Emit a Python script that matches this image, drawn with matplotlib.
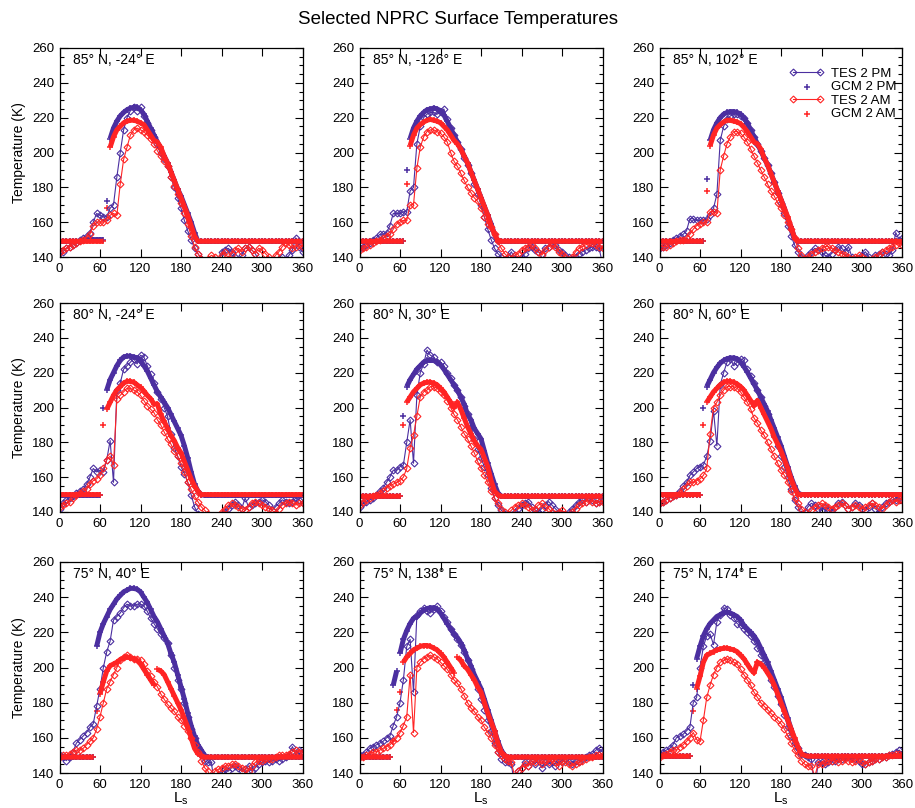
import numpy as np
import matplotlib.pyplot as plt
from matplotlib.ticker import MultipleLocator

plt.rcParams['font.family'] = ['Liberation Sans', 'DejaVu Sans']
plt.rcParams['mathtext.default'] = 'regular'

# Ls sampling (deg), same for every series
LS = np.arange(0, 361, 5)

titles = ['85° N, -24° E', '85° N, -126° E', '85° N, 102° E',
          '80° N, -24° E', '80° N, 30° E', '80° N, 60° E',
          '75° N, 40° E', '75° N, 138° E', '75° N, 174° E']

# ---- 85N -24E
tes_pm_1 = [139, 143, 145, 146, 147, 148, 150, 151, 152, 154, 160, 165,
            164, 163, 163, 168, 170, 186, 200, 213, 220, 224, 226, 224,
            226, 221, 217, 213, 209, 205, 200, 196, 192, 186, 180, 174,
            168, 161, 155, 150, 145, 142, 139, 137, 136, 137, 138, 136,
            143, 144, 145, 143, 140, 138, 141, 145, 146, 144, 142, 138,
            137, 136, 138, 136, 137, 139, 140, 138, 141, 144, 151, 146,
            143]
gcm_pm_1 = [149, 149, 149, 149, 149, 149, 149, 149, 150, 150, 150, 150,
            150, 150, 172, 208, 214, 218, 221, 223, 224.5, 225.5, 226, 226,
            224.5, 222, 218, 214, 210, 206, 202, 198, 194, 189, 184, 179,
            175, 170, 165, 160, 154, 149, 149, 149, 149, 149, 149, 149,
            149, 149, 149, 149, 149, 149, 149, 149, 149, 149, 149, 149,
            149, 149, 149, 149, 149, 149, 149, 149, 149, 149, 149, 149,
            149]
tes_am_1 = [143, 144, 145, 146, 147, 148, 149, 150, 151, 153, 158, 160,
            160, 160, 161, 164, 165, 164, 182, 196, 203, 210, 213, 214,
            213, 212, 210, 208, 205, 201, 198, 195, 192, 186, 181, 176,
            171, 165, 159, 152, 146, 142, 139, 137, 139, 141, 140, 138,
            141, 143, 139, 142, 144, 145, 143, 145, 146, 144, 142, 145,
            144, 142, 140, 138, 141, 143, 146, 148, 147, 145, 146, 147,
            146]
gcm_am_1 = [149, 149, 149, 149, 149, 149, 149, 149, 149, 149, 149, 149,
            149, 149, 168, 203, 209, 213, 215, 217, 218, 218.5, 218.5, 218,
            217, 216, 213, 210, 207, 206, 203, 198, 194, 189, 184, 179,
            174, 169, 164, 158, 152, 149, 149, 149, 149, 149, 149, 149,
            149, 149, 149, 149, 149, 149, 149, 149, 149, 149, 149, 149,
            149, 149, 149, 149, 149, 149, 149, 149, 149, 149, 149, 149,
            149]

# ---- 85N -126E
tes_pm_2 = [145, 146, 147, 148, 150, 151, 153, 153, 154, 158, 165, 165,
            165, 166, 166, 178, 180, 205, 215, 220, 222, 223, 223, 222,
            223, 225, 219, 214, 210, 206, 202, 197, 193, 188, 182, 176,
            170, 163, 156, 150, 145, 142, 140, 138, 140, 143, 139, 137,
            140, 142, 145, 146, 144, 143, 142, 145, 146, 148, 147, 144,
            143, 141, 140, 139, 140, 142, 143, 144, 145, 146, 146, 145,
            136]
gcm_pm_2 = [149, 149, 149, 149, 149, 149, 149, 149, 149, 149, 149, 149,
            149, 149, 190, 208, 214, 218, 221, 223, 224.5, 225, 225.5, 225,
            224, 221.5, 218, 214, 210, 206, 202, 198, 194, 189, 184, 179,
            174, 169, 164, 159, 153, 149, 149, 149, 149, 149, 149, 149,
            149, 149, 149, 149, 149, 149, 149, 149, 149, 149, 149, 149,
            149, 149, 149, 149, 149, 149, 149, 149, 149, 149, 149, 149,
            149]
tes_am_2 = [144, 145, 146, 147, 148, 149, 150, 151, 152, 153, 156, 159,
            160, 161, 161, 170, 170, 191, 203, 209, 212, 213, 213, 212,
            211, 209, 206, 200, 195, 192, 188, 184, 180, 177, 174, 172,
            168, 163, 159, 157, 153, 149, 145, 142, 140, 139, 141, 142,
            144, 145, 146, 147, 145, 143, 141, 144, 146, 147, 146, 143,
            142, 140, 138, 140, 143, 145, 146, 147, 148, 148, 147, 146,
            145]
gcm_am_2 = [149, 149, 149, 149, 149, 149, 149, 149, 149, 149, 149, 149,
            149, 149, 182, 204, 210, 214, 216, 217.5, 218.5, 219, 218.5, 218,
            217, 215, 213, 210, 207, 205, 202, 198, 194, 189, 184, 179,
            174, 169, 164, 158, 153, 149.5, 149, 149, 149, 149, 149, 149,
            149, 149, 149, 149, 149, 149, 149, 149, 149, 149, 149, 149,
            149, 149, 149, 149, 149, 149, 149, 149, 149, 149, 149, 149,
            149]

# ---- 85N 102E
tes_pm_3 = [145, 146, 147, 148, 150, 151, 152, 153, 155, 162, 162, 161,
            161, 161, 162, 164, 168, 176, 207, 215, 219, 221, 222, 222,
            221, 220, 217, 213, 209, 205, 201, 197, 193, 188, 183, 177,
            171, 165, 158, 152, 147, 143, 140, 138, 141, 143, 145, 144,
            143, 141, 140, 142, 144, 146, 145, 143, 146, 140, 137, 139,
            141, 143, 140, 139, 141, 142, 143, 142, 141, 144, 154, 150,
            151]
gcm_pm_3 = [149, 149, 149, 149, 149, 149, 149, 149, 149, 149, 149, 149,
            149, 149, 185, 207, 213, 217, 220, 222, 223, 223.5, 223.5, 223,
            222, 220, 217, 213, 209, 205, 201, 197, 193, 188, 183, 178,
            173, 168, 162, 157, 151, 149, 149, 149, 149, 149, 149, 149,
            149, 149, 149, 149, 149, 149, 149, 149, 149, 149, 149, 149,
            149, 149, 149, 149, 149, 149, 149, 149, 149, 149, 149, 149,
            149]
tes_am_3 = [146, 146, 146, 147, 148, 149, 150, 150, 151, 153, 156, 158,
            159, 160, 160, 166, 166, 165, 190, 198, 205, 209, 212, 212,
            211, 209, 206, 202, 198, 194, 190, 186, 182, 178, 175, 171,
            168, 164, 160, 156, 151, 145, 141, 139, 140, 142, 143, 144,
            145, 146, 146, 145, 144, 143, 142, 141, 140, 139, 140, 141,
            140, 139, 138, 139, 140, 141, 143, 144, 145, 146, 147, 148,
            147]
gcm_am_3 = [149, 149, 149, 149, 149, 149, 149, 149, 149, 149, 149, 149,
            149, 149, 178, 204, 210, 214, 216, 217.5, 218.5, 218.5, 218, 217.5,
            216.5, 214.5, 212, 209, 206, 205, 202, 197, 193, 188, 183, 178,
            173, 168, 163, 157, 151, 149, 149, 149, 149, 149, 149, 149,
            149, 149, 149, 149, 149, 149, 149, 149, 149, 149, 149, 149,
            149, 149, 149, 149, 149, 149, 149, 149, 149, 149, 149, 149,
            149]

# ---- 80N -24E
tes_pm_4 = [142, 145, 147, 148, 149, 151, 152, 153, 156, 160, 165, 163,
            164, 163, 170, 181, 157, 210, 214, 222, 224, 226, 228, 225,
            230, 229, 224, 219, 214, 209, 205, 200, 195, 185, 177, 172,
            166, 162, 157, 150, 143, 139, 137, 136, 136, 136, 136, 136,
            138, 140, 142, 144, 146, 144, 142, 148, 143, 144, 145, 146,
            147, 146, 144, 141, 143, 145, 147, 146, 145, 146, 148, 147,
            145]
gcm_pm_4 = [149.5, 149.5, 149.5, 149.5, 149.5, 149.5, 149.5, 149.5, 149.5, 149.5, 149.5, 149.5,
            149.5, 200, 210, 216, 220, 224, 227, 229, 229.5, 229.5, 229, 228.5,
            227, 224, 221, 217, 213, 209, 206, 203, 200, 196, 192, 188,
            184, 178, 171, 163, 156, 152, 150, 149.5, 149.5, 149.5, 149.5, 149.5,
            149.5, 149.5, 149.5, 149.5, 149.5, 149.5, 149.5, 149.5, 149.5, 149.5, 149.5, 149.5,
            149.5, 149.5, 149.5, 149.5, 149.5, 149.5, 149.5, 149.5, 149.5, 149.5, 149.5, 149.5,
            149.5]
tes_am_4 = [143, 144, 145, 146, 148, 150, 151, 152, 153, 156, 158, 159,
            161, 165, 170, 172, 167, 205, 207, 209, 211, 211, 210, 209,
            207, 204, 201, 199, 197, 193, 190, 186, 182, 179, 175, 172,
            168, 163, 157, 153, 149, 146, 143, 141, 139, 137, 136, 137,
            140, 142, 144, 145, 144, 143, 142, 141, 143, 145, 146, 145,
            144, 143, 142, 141, 139, 142, 144, 145, 146, 145, 144, 145,
            145]
gcm_am_4 = [150, 150, 150, 150, 150, 150, 150, 150, 150, 150, 150, 150,
            150, 190, 199, 203, 207, 210, 212, 214, 215, 215, 214.5, 213,
            211.5, 209.5, 207, 205, 202, 202, 196, 192, 188, 184, 181, 177,
            174, 169, 164, 159, 155, 152, 150, 150, 150, 150, 150, 150,
            150, 150, 150, 150, 150, 150, 150, 150, 150, 150, 150, 150,
            150, 150, 150, 150, 150, 150, 150, 150, 150, 150, 150, 150,
            150]

# ---- 80N 30E
tes_pm_5 = [143, 145, 146, 147, 148, 150, 152, 154, 157, 160, 164, 164,
            166, 167, 180, 193, 168, 207, 220, 225, 233, 230, 229, 226,
            226, 224, 220, 217, 213, 210, 206, 201, 196, 189, 182, 176,
            171, 166, 161, 154, 148, 144, 141, 139, 137, 138, 140, 142,
            144, 145, 146, 143, 141, 140, 142, 144, 146, 144, 142, 140,
            139, 138, 140, 142, 144, 146, 147, 146, 148, 147, 145, 146,
            147]
gcm_pm_5 = [149, 149, 149, 149, 149, 149, 149, 149, 149, 149, 149, 149,
            149, 195, 212, 216, 219, 222, 224, 226, 227, 227, 227, 226,
            224.5, 222, 219, 216, 213, 210, 206, 202, 196, 193, 188, 185,
            182, 175, 168, 162, 156, 151, 149, 149, 149, 149, 149, 149,
            149, 149, 149, 149, 149, 149, 149, 149, 149, 149, 149, 149,
            149, 149, 149, 149, 149, 149, 149, 149, 149, 149, 149, 149,
            149]
tes_am_5 = [144, 146, 147, 148, 149, 150, 151, 152, 154, 155, 156, 157,
            158, 160, 165, 177, 184, 195, 206, 209, 210, 212, 212, 211,
            209, 207, 204, 200, 196, 193, 189, 185, 182, 178, 174, 169,
            165, 161, 157, 152, 148, 145, 142, 140, 139, 141, 143, 144,
            145, 144, 143, 141, 142, 144, 145, 143, 142, 140, 139, 140,
            141, 139, 138, 140, 142, 144, 145, 146, 147, 146, 145, 146,
            146]
gcm_am_5 = [149, 149, 149, 149, 149, 149, 149, 149, 149, 149, 149, 149,
            149, 190, 203, 206, 209, 211, 213, 214, 214.5, 214.5, 214, 213,
            211, 209, 206, 203, 200, 203, 199, 194, 189, 185, 181, 178,
            176, 171, 166, 158, 152, 150, 149, 149, 149, 149, 149, 149,
            149, 149, 149, 149, 149, 149, 149, 149, 149, 149, 149, 149,
            149, 149, 149, 149, 149, 149, 149, 149, 149, 149, 149, 149,
            149]

# ---- 80N 60E
tes_pm_6 = [145, 146, 147, 148, 149, 150, 152, 155, 157, 161, 163, 165,
            166, 167, 172, 181, 198, 178, 213, 220, 226, 228, 224, 226,
            228, 227, 222, 218, 214, 210, 206, 201, 196, 190, 184, 178,
            172, 166, 160, 153, 147, 143, 139, 140, 143, 145, 144, 142,
            141, 143, 142, 140, 143, 145, 146, 144, 142, 143, 145, 144,
            142, 141, 143, 145, 142, 140, 143, 145, 146, 147, 147, 148,
            147]
gcm_pm_6 = [150, 150, 150, 150, 150, 150, 150, 150, 150, 150, 150, 150,
            150, 200, 212, 216, 220, 223, 225.5, 227, 228, 228.5, 228.5, 228,
            226, 223.5, 220.5, 217, 213.5, 210, 206, 202, 198, 193, 188, 183,
            178, 172, 166, 160, 155, 151, 150, 150, 150, 150, 150, 150,
            150, 150, 150, 150, 150, 150, 150, 150, 150, 150, 150, 150,
            150, 150, 150, 150, 150, 150, 150, 150, 150, 150, 150, 150,
            150]
tes_am_6 = [145, 146, 147, 148, 149, 150, 151, 153, 155, 157, 157, 158,
            159, 161, 165, 185, 200, 203, 207, 210, 212, 212, 212, 211,
            209, 206, 203, 199, 194, 191, 187, 184, 180, 176, 172, 168,
            164, 161, 157, 152, 148, 145, 142, 140, 138, 141, 143, 144,
            145, 144, 143, 142, 143, 144, 145, 144, 142, 143, 144, 143,
            142, 143, 144, 145, 144, 143, 142, 144, 146, 147, 146, 147,
            147]
gcm_am_6 = [150, 150, 150, 150, 150, 150, 150, 150, 150, 150, 150, 150,
            150, 190, 203, 206, 209, 211, 213, 214.5, 215, 215, 214.5, 213.5,
            212, 210, 207, 204, 201, 204, 200, 196, 192, 188, 183, 179,
            175, 170, 165, 159, 154, 150, 150, 150, 150, 150, 150, 150,
            150, 150, 150, 150, 150, 150, 150, 150, 150, 150, 150, 150,
            150, 150, 150, 150, 150, 150, 150, 150, 150, 150, 150, 150,
            150]

# ---- 75N 40E
tes_pm_7 = [150, 149, 147, 149, 152, 157, 159, 161, 163, 166, 168, 178,
            188, 200, 209, 215, 227, 229, 231, 234, 236, 235, 235, 236,
            236, 235, 232, 228, 225, 222, 219, 217, 214, 207, 200, 193,
            188, 180, 172, 165, 160, 155, 150, 147, 146, 146, 132, 138,
            140, 142, 141, 143, 144, 143, 141, 142, 144, 141, 143, 145,
            146, 147, 146, 147, 148, 147, 148, 149, 150, 155, 151, 153,
            152]
gcm_pm_7 = [149, 149, 149, 149, 149, 149, 149, 149, 149, 149, 149, 212,
            220, 225, 229, 233, 236, 239, 241, 243, 244, 245, 245, 244.5,
            243, 240, 237, 233, 229, 226, 222, 218, 214, 208, 203, 196,
            189, 182, 174, 167, 161, 156, 153, 150, 149, 149, 149, 149,
            149, 149, 149, 149, 149, 149, 149, 149, 149, 149, 149, 149,
            149, 149, 149, 149, 149, 149, 149, 149, 149, 149, 149, 149,
            149]
tes_am_7 = [149, 150, 150, 151, 152, 153, 153, 154, 156, 158, 160, 165,
            172, 180, 188, 192, 196, 200, 204, 206, 207, 206, 205, 205,
            204, 202, 198, 195, 192, 189, 185, 182, 179, 177, 175, 172,
            170, 167, 164, 160, 156, 152, 147, 143, 141, 137, 141, 142,
            143, 144, 144, 145, 145, 144, 143, 142, 141, 144, 146, 147,
            147, 148, 148, 148, 149, 150, 150, 150, 151, 152, 153, 152,
            152]
gcm_am_7 = [149, 149, 149, 149, 149, 149, 149, 149, 149, 149, 149, 175,
            185, 192, 198, 201, 202, 203, 204.5, 205.5, 206, 205.5, 205, 204,
            202, 199, 196, 193, 190, 199, 198, 196, 192, 188, 184, 180,
            176, 171, 166, 160, 154, 151, 150, 149, 149, 149, 149, 149,
            149, 149, 149, 149, 149, 149, 149, 149, 149, 149, 149, 149,
            149, 149, 149, 149, 149, 149, 149, 149, 149, 149, 149, 149,
            149]

# ---- 75N 138E
tes_pm_8 = [150, 150, 152, 154, 155, 156, 157, 158, 160, 161, 167, 172,
            180, 193, 212, 216, 186, 230, 232, 234, 232, 231, 233, 235,
            232, 229, 226, 222, 219, 216, 213, 209, 204, 199, 194, 188,
            182, 176, 170, 164, 157, 152, 148, 146, 146, 145, 132, 141,
            143, 146, 144, 147, 145, 148, 143, 146, 145, 146, 144, 147,
            146, 148, 146, 145, 147, 146, 148, 149, 150, 151, 153, 154,
            152]
gcm_pm_8 = [149, 149, 149, 149, 149, 149, 149, 149, 149, 149, 190, 198,
            208, 216, 221, 225, 228, 229, 231, 232.5, 233.5, 234, 234, 233,
            231, 228, 225, 222, 219, 217, 214, 210, 205, 201, 196, 192,
            188, 182, 176, 170, 164, 158, 153, 150, 149, 149, 149, 149,
            149, 149, 149, 149, 149, 149, 149, 149, 149, 149, 149, 149,
            149, 149, 149, 149, 149, 149, 149, 149, 149, 149, 149, 149,
            149]
tes_am_8 = [149, 149, 150, 151, 152, 152, 153, 154, 155, 156, 158, 160,
            163, 167, 172, 196, 163, 200, 203, 205, 206, 207, 206, 205,
            203, 201, 199, 196, 193, 191, 188, 184, 180, 177, 175, 172,
            170, 166, 163, 160, 156, 152, 150, 148, 147, 146, 138, 141,
            143, 145, 144, 147, 146, 148, 145, 147, 146, 148, 146, 144,
            147, 146, 145, 144, 145, 146, 147, 148, 149, 149, 150, 150,
            150]
gcm_am_8 = [149, 149, 149, 149, 149, 149, 149, 149, 149, 149, 158, 176,
            186, 203, 206, 208, 210, 211, 212, 212.5, 212.5, 212, 211, 210,
            208, 206, 203, 200, 197, 206, 204, 201, 199, 196, 193, 189,
            186, 180, 174, 169, 164, 157, 152, 150, 149, 149, 149, 149,
            149, 149, 149, 149, 149, 149, 149, 149, 149, 149, 149, 149,
            149, 149, 149, 149, 149, 149, 149, 149, 149, 149, 149, 149,
            149]

# ---- 75N 174E
tes_pm_9 = [151, 152, 153, 154, 156, 160, 161, 162, 164, 166, 180, 183,
            200, 212, 218, 219, 213, 226, 230, 234, 233, 230, 228, 225,
            224, 222, 220, 218, 215, 211, 207, 203, 198, 193, 189, 184,
            179, 173, 166, 161, 157, 154, 151, 150, 149, 148, 130, 146,
            146, 145, 146, 147, 147, 148, 148, 149, 149, 149, 148, 147,
            145, 145, 146, 147, 148, 148, 149, 149, 150, 151, 152, 153,
            151]
gcm_pm_9 = [149.5, 149.5, 149.5, 149.5, 149.5, 149.5, 149.5, 149.5, 149.5, 149.5, 190, 205,
            212, 218, 222, 225, 227, 229, 230, 231, 231.5, 231, 230, 229,
            227, 224, 222, 220, 218, 215, 211, 207, 203, 198, 193, 188,
            183, 177, 171, 165, 159, 154, 151, 150, 149.5, 149.5, 149.5, 149.5,
            149.5, 149.5, 149.5, 149.5, 149.5, 149.5, 149.5, 149.5, 149.5, 149.5, 149.5, 149.5,
            149.5, 149.5, 149.5, 149.5, 149.5, 149.5, 149.5, 149.5, 149.5, 149.5, 149.5, 149.5,
            149.5]
tes_am_9 = [149, 150, 151, 152, 153, 153, 155, 156, 158, 160, 163, 159,
            158, 170, 183, 190, 196, 200, 203, 204, 205, 204, 203, 202,
            199, 196, 193, 190, 186, 183, 180, 178, 176, 174, 172, 170,
            168, 165, 161, 157, 153, 150, 147, 145, 144, 144, 138, 145,
            145, 146, 147, 147, 148, 146, 147, 148, 147, 146, 147, 148,
            146, 145, 146, 147, 148, 148, 149, 149, 150, 150, 151, 151,
            150]
gcm_am_9 = [149.5, 149.5, 149.5, 149.5, 149.5, 149.5, 149.5, 149.5, 149.5, 149.5, 175, 188,
            195, 203, 207, 208, 209, 210, 210.5, 211, 211, 210.5, 210, 209,
            207, 205, 202, 199, 197, 203, 202, 200, 197, 194, 190, 185,
            180, 175, 170, 165, 160, 155, 151, 150, 149.5, 149.5, 149.5, 149.5,
            149.5, 149.5, 149.5, 149.5, 149.5, 149.5, 149.5, 149.5, 149.5, 149.5, 149.5, 149.5,
            149.5, 149.5, 149.5, 149.5, 149.5, 149.5, 149.5, 149.5, 149.5, 149.5, 149.5, 149.5,
            149.5]

tes_pm = [tes_pm_1, tes_pm_2, tes_pm_3, tes_pm_4, tes_pm_5, tes_pm_6, tes_pm_7, tes_pm_8, tes_pm_9]
gcm_pm = [gcm_pm_1, gcm_pm_2, gcm_pm_3, gcm_pm_4, gcm_pm_5, gcm_pm_6, gcm_pm_7, gcm_pm_8, gcm_pm_9]
tes_am = [tes_am_1, tes_am_2, tes_am_3, tes_am_4, tes_am_5, tes_am_6, tes_am_7, tes_am_8, tes_am_9]
gcm_am = [gcm_am_1, gcm_am_2, gcm_am_3, gcm_am_4, gcm_am_5, gcm_am_6, gcm_am_7, gcm_am_8, gcm_am_9]

PURPLE = '#4b2fa0'
RED = '#ff2424'


def gcm_band(ax, y, color, label):
    # model output is densely sampled: draw it as a thick band of '+',
    # broken where the model jumps (cap edge passing)
    y = np.asarray(y, float)
    xs, ys = [], []
    for k in range(len(y)):
        xs.append(LS[k])
        ys.append(y[k])
        if k < len(y) - 1 and abs(y[k + 1] - y[k]) > 8.5:
            xs.append(np.nan)
            ys.append(np.nan)
    ax.plot(xs, ys, color=color, lw=3.6, solid_capstyle='butt')
    ax.scatter(LS, y, color=color, marker='+', s=24, linewidths=1.1, label=label)


W, H = 915, 808
fig = plt.figure(figsize=(W / 100, H / 100), dpi=100)

lefts = [59.5, 359.5, 659.5]
tops = [48, 303, 562]
heights = [209, 209, 211]
aw = 243

for i in range(9):
    r, c = divmod(i, 3)
    ax = fig.add_axes([lefts[c] / W, 1 - (tops[r] + heights[r]) / H, aw / W, heights[r] / H])

    ax.plot(LS, tes_pm[i], color=PURPLE, lw=0.8, marker='D', ms=3.5, mfc='none',
            mew=0.8, label='TES 2 PM')
    gcm_band(ax, gcm_pm[i], PURPLE, 'GCM 2 PM')
    ax.plot(LS, tes_am[i], color=RED, lw=0.8, marker='D', ms=3.5, mfc='none',
            mew=0.8, label='TES 2 AM')
    gcm_band(ax, gcm_am[i], RED, 'GCM 2 AM')

    ax.set_xlim(0, 360)
    ax.set_ylim(140, 260)
    ax.xaxis.set_major_locator(MultipleLocator(60))
    ax.yaxis.set_major_locator(MultipleLocator(20))
    ax.yaxis.set_minor_locator(MultipleLocator(5))
    ax.tick_params(which='both', direction='in', top=True, right=True,
                   labelsize=9.5, width=0.8)
    ax.tick_params(which='major', length=6, pad=4)
    ax.tick_params(which='minor', length=3)
    for s in ax.spines.values():
        s.set_linewidth(0.9)

    ax.text(0.054, 0.943, titles[i], transform=ax.transAxes, fontsize=10,
            va='center', ha='left')

    if c == 0:
        ax.set_ylabel('Temperature (K)', fontsize=10, labelpad=4)
    if r == 2:
        ax.set_xlabel('L$_s$', fontsize=11, labelpad=0)
    if i == 2:
        ax.legend(loc='upper right', bbox_to_anchor=(0.975, 0.905), frameon=False,
                  fontsize=9.5, numpoints=2, scatterpoints=1, handlelength=2.7,
                  handletextpad=0.5, labelspacing=0.08, borderpad=0,
                  borderaxespad=0)

fig.text(0.5, 1 - 20 / H, 'Selected NPRC Surface Temperatures', ha='center',
         va='center', fontsize=13.5)

fig.savefig('out.png', dpi=100)
